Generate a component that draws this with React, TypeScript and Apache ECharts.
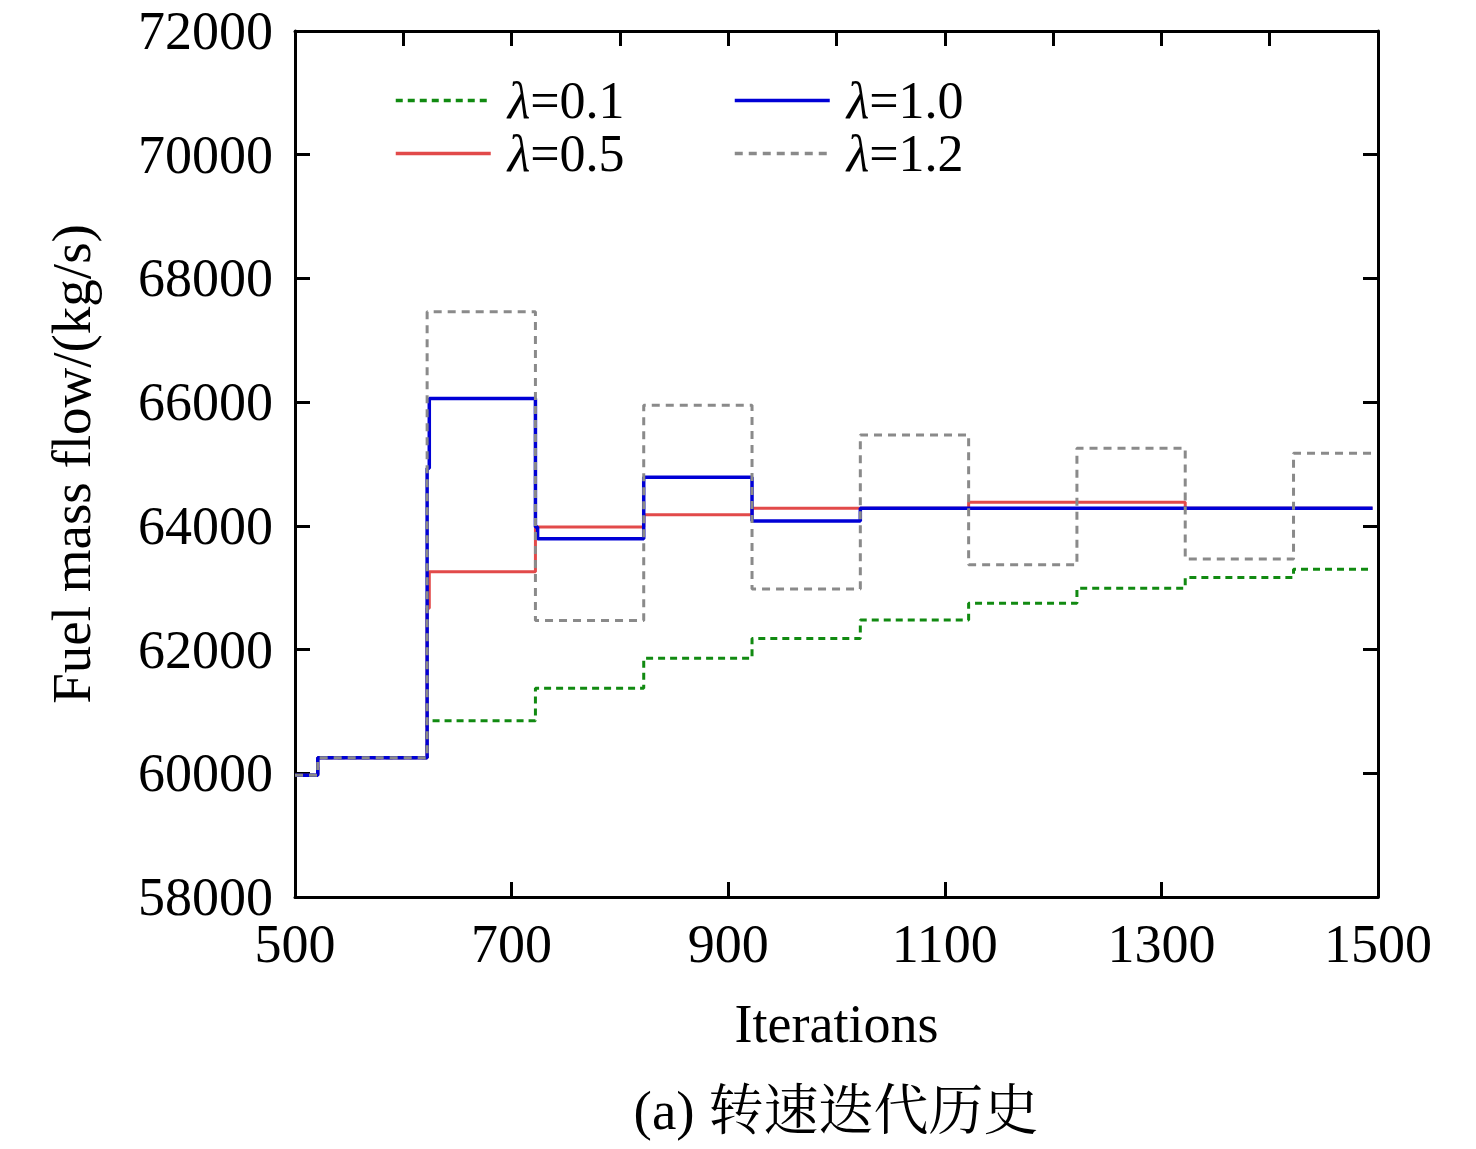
import React, { useEffect, useRef } from "react";
import * as echarts from "echarts";

const FONT = "'Liberation Serif', 'Times New Roman', serif";
const CJK_FONT = "'Liberation Serif', 'Noto Serif CJK SC', 'Noto Sans CJK SC', serif";

const yTicks = { min: 58000, max: 72000, interval: 2000 };
const xTicks = { min: 500, max: 1500, interval: 200, minorInterval: 100 };

const names = ["λ=0.1", "λ=0.5", "λ=1.0", "λ=1.2"];

const x01 = [500, 521, 622, 722, 822, 922, 1022, 1122, 1222, 1322, 1422, 1495];
const v01 = [59970, 60250, 60850, 61375, 61860, 62180, 62480, 62750, 62990, 63165, 63300, 63300];

const x05 = [500, 521, 622, 624, 722, 822, 922, 1122, 1322, 1495];
const v05 = [59970, 60250, 62670, 63260, 63980, 64180, 64285, 64380, 64285, 64285];

const x10 = [500, 521, 622, 624, 722, 724, 822, 922, 1022, 1495];
const v10 = [59970, 60250, 64930, 66060, 63980, 63790, 64785, 64080, 64285, 64285];

const x12 = [500, 521, 622, 722, 822, 922, 1022, 1122, 1222, 1322, 1422, 1495];
const v12 = [59970, 60250, 67460, 62470, 65950, 62980, 65470, 63370, 65255, 63465, 65175, 65175];

const colors = ["#118a11", "#e24a4a", "#0000d6", "#8a8a8a"];

function pts(xs: number[], vs: number[]) {
  return xs.map((x, i) => [x, vs[i]]);
}

export default function App() {
  const ref = useRef<HTMLDivElement>(null);
  useEffect(() => {
    document.body.style.margin = "0";
    const chart = echarts.init(ref.current!, undefined, { renderer: "svg" });
    const axisLine = { show: true, lineStyle: { color: "#000", width: 3 } };
    const tick = { show: true, inside: true, length: 15, lineStyle: { color: "#000", width: 3 } };
    const legendText = {
      color: "#000",
      fontFamily: FONT,
      fontSize: 52,
      lineHeight: 53,
      padding: [0, 0, 0, 12],
      rich: {
        i: { fontFamily: FONT, fontSize: 52, lineHeight: 53, fontStyle: "italic", color: "#000" },
        n: { fontFamily: FONT, fontSize: 52, lineHeight: 53, color: "#000" },
      },
    };
    const fmt = (name: string) => `{i|λ}{n|${name.slice(1)}}`;
    const seriesDefs = [
      { name: names[0], data: pts(x01, v01), color: colors[0], width: 3, type: [7, 5] },
      { name: names[1], data: pts(x05, v05), color: colors[1], width: 3, type: "solid" },
      { name: names[2], data: pts(x10, v10), color: colors[2], width: 3.5, type: "solid" },
      { name: names[3], data: pts(x12, v12), color: colors[3], width: 3, type: [8, 6] },
    ];
    const legendBase = {
      top: 69,
      orient: "vertical",
      itemWidth: 95,
      itemHeight: 4,
      itemGap: 0,
      formatter: fmt,
      textStyle: legendText,
      itemStyle: { opacity: 0 },
      lineStyle: { width: 3.5 },
    };
    chart.setOption({
      animation: false,
      backgroundColor: "#fff",
      grid: { left: 295, top: 31, right: 98, bottom: 252, containLabel: false },
      legend: [
        { ...legendBase, left: 389, data: [names[0], names[1]] },
        { ...legendBase, left: 728, data: [names[2], names[3]] },
      ],
      xAxis: [
        {
          type: "value",
          position: "bottom",
          min: xTicks.min,
          max: xTicks.max,
          interval: xTicks.interval,
          axisLine,
          axisTick: tick,
          splitLine: { show: false },
          axisLabel: {
            color: "#000",
            fontFamily: FONT,
            fontSize: 54,
            margin: 20,
            formatter: (v: number) => String(v),
          },
          name: "Iterations",
          nameLocation: "middle",
          nameGap: 100,
          nameTextStyle: { color: "#000", fontFamily: FONT, fontSize: 54 },
        },
        {
          type: "value",
          position: "top",
          min: xTicks.min,
          max: xTicks.max,
          interval: xTicks.minorInterval,
          axisLine,
          axisTick: tick,
          splitLine: { show: false },
          axisLabel: { show: false },
        },
      ],
      yAxis: [
        {
          type: "value",
          position: "left",
          min: yTicks.min,
          max: yTicks.max,
          interval: yTicks.interval,
          axisLine,
          axisTick: tick,
          splitLine: { show: false },
          axisLabel: {
            color: "#000",
            fontFamily: FONT,
            fontSize: 54,
            margin: 22,
            formatter: (v: number) => String(v),
          },
          name: "Fuel mass flow/(kg/s)",
          nameLocation: "middle",
          nameGap: 196,
          nameTextStyle: { color: "#000", fontFamily: FONT, fontSize: 55 },
        },
        {
          type: "value",
          position: "right",
          min: yTicks.min,
          max: yTicks.max,
          interval: yTicks.interval,
          axisLine,
          axisTick: tick,
          splitLine: { show: false },
          axisLabel: { show: false },
        },
      ],
      graphic: [
        {
          type: "text",
          x: 836,
          y: 1110,
          style: {
            text: "(a) 转速迭代历史",
            x: 0,
            y: 0,
            fill: "#000",
            font: `55px ${CJK_FONT}`,
            textAlign: "center",
            textVerticalAlign: "middle",
          },
        },
      ],
      series: seriesDefs.map((s) => ({
        name: s.name,
        type: "line",
        xAxisIndex: 0,
        yAxisIndex: 0,
        step: "end",
        symbol: "none",
        showSymbol: false,
        data: s.data,
        color: s.color,
        lineStyle: { color: s.color, width: s.width, type: s.type },
        itemStyle: { color: s.color },
      })),
    });
    return () => chart.dispose();
  }, []);
  return <div ref={ref} style={{ width: 1476, height: 1149 }} />;
}
